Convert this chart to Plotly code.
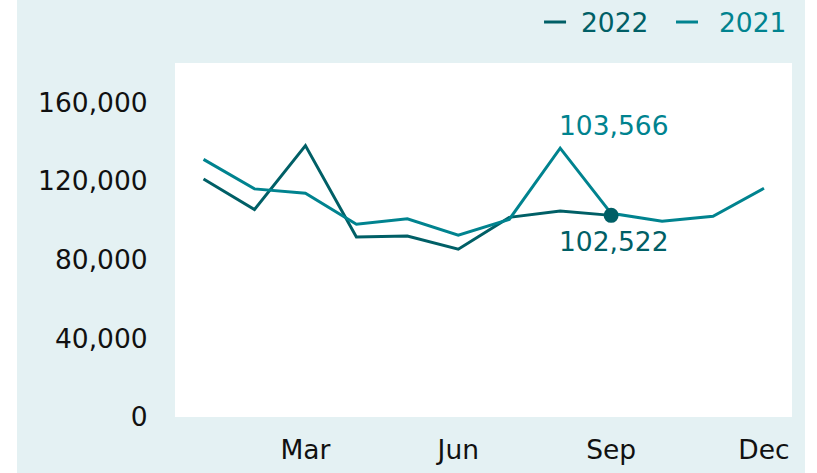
import plotly.graph_objects as go

months = ["Jan", "Feb", "Mar", "Apr", "May", "Jun", "Jul", "Aug", "Sep", "Oct", "Nov", "Dec"]
sales_2022 = [121000, 105500, 138000, 91500, 92000, 85300, 101500, 104800, 102522]
sales_2021 = [131000, 116000, 113800, 98000, 100800, 92400, 100500, 136700, 103566, 99500, 102100, 116300]
tick_months = ["Mar", "Jun", "Sep", "Dec"]
y_ticks = [0, 40000, 80000, 120000, 160000]

C22 = "#005f66"
C21 = "#00838f"
BG = "#e4f1f3"
FONT = "Verdana, DejaVu Sans, sans-serif"
FS = 26.5

fig = go.Figure()
fig.add_trace(go.Scatter(x=months[:len(sales_2022)], y=sales_2022, name="2022", mode="lines",
                         line=dict(color=C22, width=3)))
fig.add_trace(go.Scatter(x=months, y=sales_2021, name="2021", mode="lines",
                         line=dict(color=C21, width=3)))
last = len(sales_2022) - 1
fig.add_trace(go.Scatter(x=[months[last]], y=[sales_2022[last]], mode="markers",
                         marker=dict(color=C22, size=15), showlegend=False, hoverinfo="skip"))

fig.add_annotation(x=months[last], y=sales_2021[last], text=f"{sales_2021[last]:,}", showarrow=False,
                   yshift=88, xshift=3, font=dict(color=C21, size=FS, family=FONT))
fig.add_annotation(x=months[last], y=sales_2022[last], text=f"{sales_2022[last]:,}", showarrow=False,
                   yshift=-26, xshift=3, font=dict(color=C22, size=FS, family=FONT))

# legend: short line swatch + label
legend_items = [("2022", C22, 0.5981, 0.6338, 0.6547), ("2021", C21, 0.8120, 0.8477, 0.8784)]
for name, col, x0, x1, xt in legend_items:
    fig.add_shape(type="line", xref="paper", yref="paper", x0=x0, x1=x1, y0=1.1158, y1=1.1158,
                  line=dict(color=col, width=3))
    fig.add_annotation(xref="paper", yref="paper", x=xt, y=1.1158, xanchor="left", yanchor="middle",
                       text=name, showarrow=False, font=dict(color=col, size=FS, family=FONT))

fig.update_layout(
    width=788, height=473,
    margin=dict(l=158, r=13, t=63, b=56),
    paper_bgcolor=BG, plot_bgcolor="white",
    showlegend=False,
    font=dict(family=FONT, size=FS, color="#111111"),
    xaxis=dict(type="category", categoryorder="array", categoryarray=months,
               range=[-0.56, 11.55], tickvals=tick_months, ticktext=tick_months,
               showgrid=False, zeroline=False, showline=False, automargin=False,
               ticks="outside", ticklen=9, tickcolor="rgba(0,0,0,0)"),
    yaxis=dict(range=[0, 180000], tickvals=y_ticks, tickformat=",",
               showgrid=False, zeroline=False, showline=False, automargin=False,
               ticks="outside", ticklen=21, tickcolor="rgba(0,0,0,0)"),
)

fig.write_html("out.html",
               post_script="document.body.style.margin='0px 0px 0px 17px';")
